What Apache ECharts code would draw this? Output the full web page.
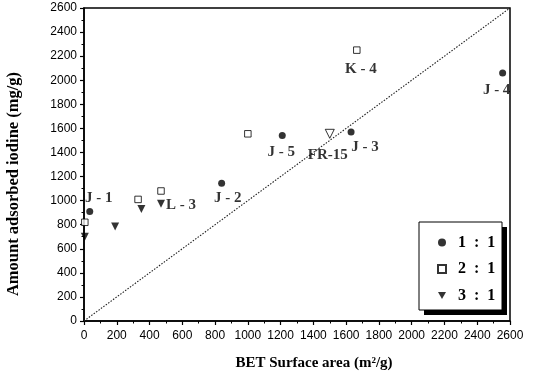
<!DOCTYPE html>
<html>
<head>
<meta charset="utf-8">
<script src="https://cdn.jsdelivr.net/npm/echarts@6/dist/echarts.min.js"></script>
<style>
html,body{margin:0;padding:0;background:#fff;}
#chart{width:534px;height:388px;}
</style>
</head>
<body>
<div id="chart"></div>
<script>
// ---- data ----
const ratio11X = [35, 840, 1210, 1630, 2555];
const ratio11Y = [910, 1145, 1540, 1570, 2060];
const ratio11Labels = ['J - 1', 'J - 2', 'J - 5', 'J - 3', 'J - 4'];

const ratio21X = [5, 330, 470, 1000, 1665];
const ratio21Y = [820, 1010, 1080, 1555, 2250];
const ratio21Labels = ['', '', '', '', 'K - 4'];

const ratio31X = [5, 190, 350, 470];
const ratio31Y = [700, 785, 930, 975];
const ratio31Labels = ['', '', '', 'L - 3'];

const fr15X = [1500];
const fr15Y = [1555];
const fr15Labels = ['FR-15'];

const diagonal = [0, 2600];

const xTicks = [0, 200, 400, 600, 800, 1000, 1200, 1400, 1600, 1800, 2000, 2200, 2400, 2600];
const yTicks = [0, 200, 400, 600, 800, 1000, 1200, 1400, 1600, 1800, 2000, 2200, 2400, 2600];

const seriesNames = ['1 : 1', '2 : 1', '3 : 1'];
const xTitle = 'BET Surface area (m\u00B2/g)';
const yTitle = 'Amount adsorbed iodine (mg/g)';

// ---- styling (label placement relative to marker) ----
const labelOffsets = {
  'J - 1': [9, -13], 'J - 2': [6, 15], 'J - 5': [-1, 17], 'J - 3': [14, 15],
  'J - 4': [-6, 17], 'K - 4': [4, 19], 'L - 3': [20, 1], 'FR-15': [-2, 21]
};

const serif = '"Liberation Serif", "Times New Roman", serif';
const sans = '"Liberation Sans", Arial, sans-serif';

function build(xs, ys, labels) {
  return xs.map((x, i) => {
    const item = { value: [x, ys[i]] };
    const lb = labels[i];
    if (lb) {
      item.label = {
        show: true, formatter: lb, position: 'inside',
        offset: labelOffsets[lb] || [0, 0],
        color: '#000', fontFamily: serif, fontWeight: 'bold', fontSize: 15
      };
    }
    return item;
  });
}

const chart = echarts.init(document.getElementById('chart'), null, { renderer: 'canvas' });

const axisCommon = {
  type: 'value', min: 0, max: 2600, interval: 200,
  axisLine: { show: true, lineStyle: { color: '#000', width: 1.5 } },
  axisTick: { show: true, length: 4, lineStyle: { color: '#000', width: 1.2 } },
  minorTick: { show: true, splitNumber: 2, length: 2.5, lineStyle: { color: '#000', width: 1 } },
  splitLine: { show: false },
  axisLabel: { color: '#000', fontFamily: sans, fontSize: 12 }
};

chart.setOption({
  animation: false,
  backgroundColor: '#fff',
  grid: { left: 84, right: 24, top: 8, bottom: 67, show: true, borderColor: '#000', borderWidth: 1.5 },
  xAxis: Object.assign({}, axisCommon, {
    axisLabel: Object.assign({}, axisCommon.axisLabel, { margin: 9, formatter: v => xTicks.includes(v) ? String(v) : '' })
  }),
  yAxis: Object.assign({}, axisCommon, {
    axisLabel: Object.assign({}, axisCommon.axisLabel, { margin: 7, formatter: v => yTicks.includes(v) ? String(v) : '' })
  }),
  legend: {
    orient: 'vertical', left: 437, top: 234.5, padding: 0,
    itemWidth: 8, itemHeight: 8, itemGap: 10.5,
    data: [
      { name: seriesNames[0], icon: 'circle' },
      { name: seriesNames[1], icon: 'path://M1,1L9,1L9,9L1,9Z' },
      { name: seriesNames[2], icon: 'path://M0,0L10,0L5,9Z' }
    ],
    formatter: n => n.replace(/ /g, '\u2002'),
    textStyle: { color: '#000', fontFamily: serif, fontWeight: 'bold', fontSize: 16, lineHeight: 14, padding: [0, 0, 0, 7] },
    z: 10
  },
  graphic: [
    { type: 'rect', z: 8, shape: { x: 424, y: 227, width: 83, height: 88 }, style: { fill: '#000' } },
    { type: 'rect', z: 9, shape: { x: 419, y: 222, width: 83, height: 88 }, style: { fill: '#fff', stroke: '#000', lineWidth: 1 } },
    { type: 'text', z: 10, x: 314, y: 363, style: { text: xTitle, font: 'bold 15px ' + serif, fill: '#000', textAlign: 'center', textVerticalAlign: 'middle' } },
    { type: 'text', z: 10, x: 14, y: 184, rotation: Math.PI / 2, style: { text: yTitle, font: 'bold 16.5px ' + serif, fill: '#000', textAlign: 'center', textVerticalAlign: 'middle' } }
  ],
  series: [
    {
      type: 'line', name: 'diagonal', data: [[diagonal[0], diagonal[0]], [diagonal[1], diagonal[1]]],
      symbol: 'none', silent: true,
      lineStyle: { color: '#222', width: 1.1, type: [1.5, 1.5] }, z: 1
    },
    {
      type: 'scatter', name: seriesNames[0], symbol: 'circle', symbolSize: 7,
      itemStyle: { color: '#000' },
      data: build(ratio11X, ratio11Y, ratio11Labels)
    },
    {
      type: 'scatter', name: seriesNames[1], symbol: 'rect', symbolSize: 6.5,
      itemStyle: { color: '#fff', borderColor: '#000', borderWidth: 1 },
      data: build(ratio21X, ratio21Y, ratio21Labels)
    },
    {
      type: 'scatter', name: seriesNames[2], symbol: 'triangle', symbolSize: 8, symbolRotate: 180,
      itemStyle: { color: '#000' },
      data: build(ratio31X, ratio31Y, ratio31Labels)
    },
    {
      type: 'scatter', name: 'FR-15', symbol: 'triangle', symbolSize: 9, symbolRotate: 180,
      itemStyle: { color: '#fff', borderColor: '#000', borderWidth: 1 },
      data: build(fr15X, fr15Y, fr15Labels)
    }
  ]
});
</script>
</body>
</html>
